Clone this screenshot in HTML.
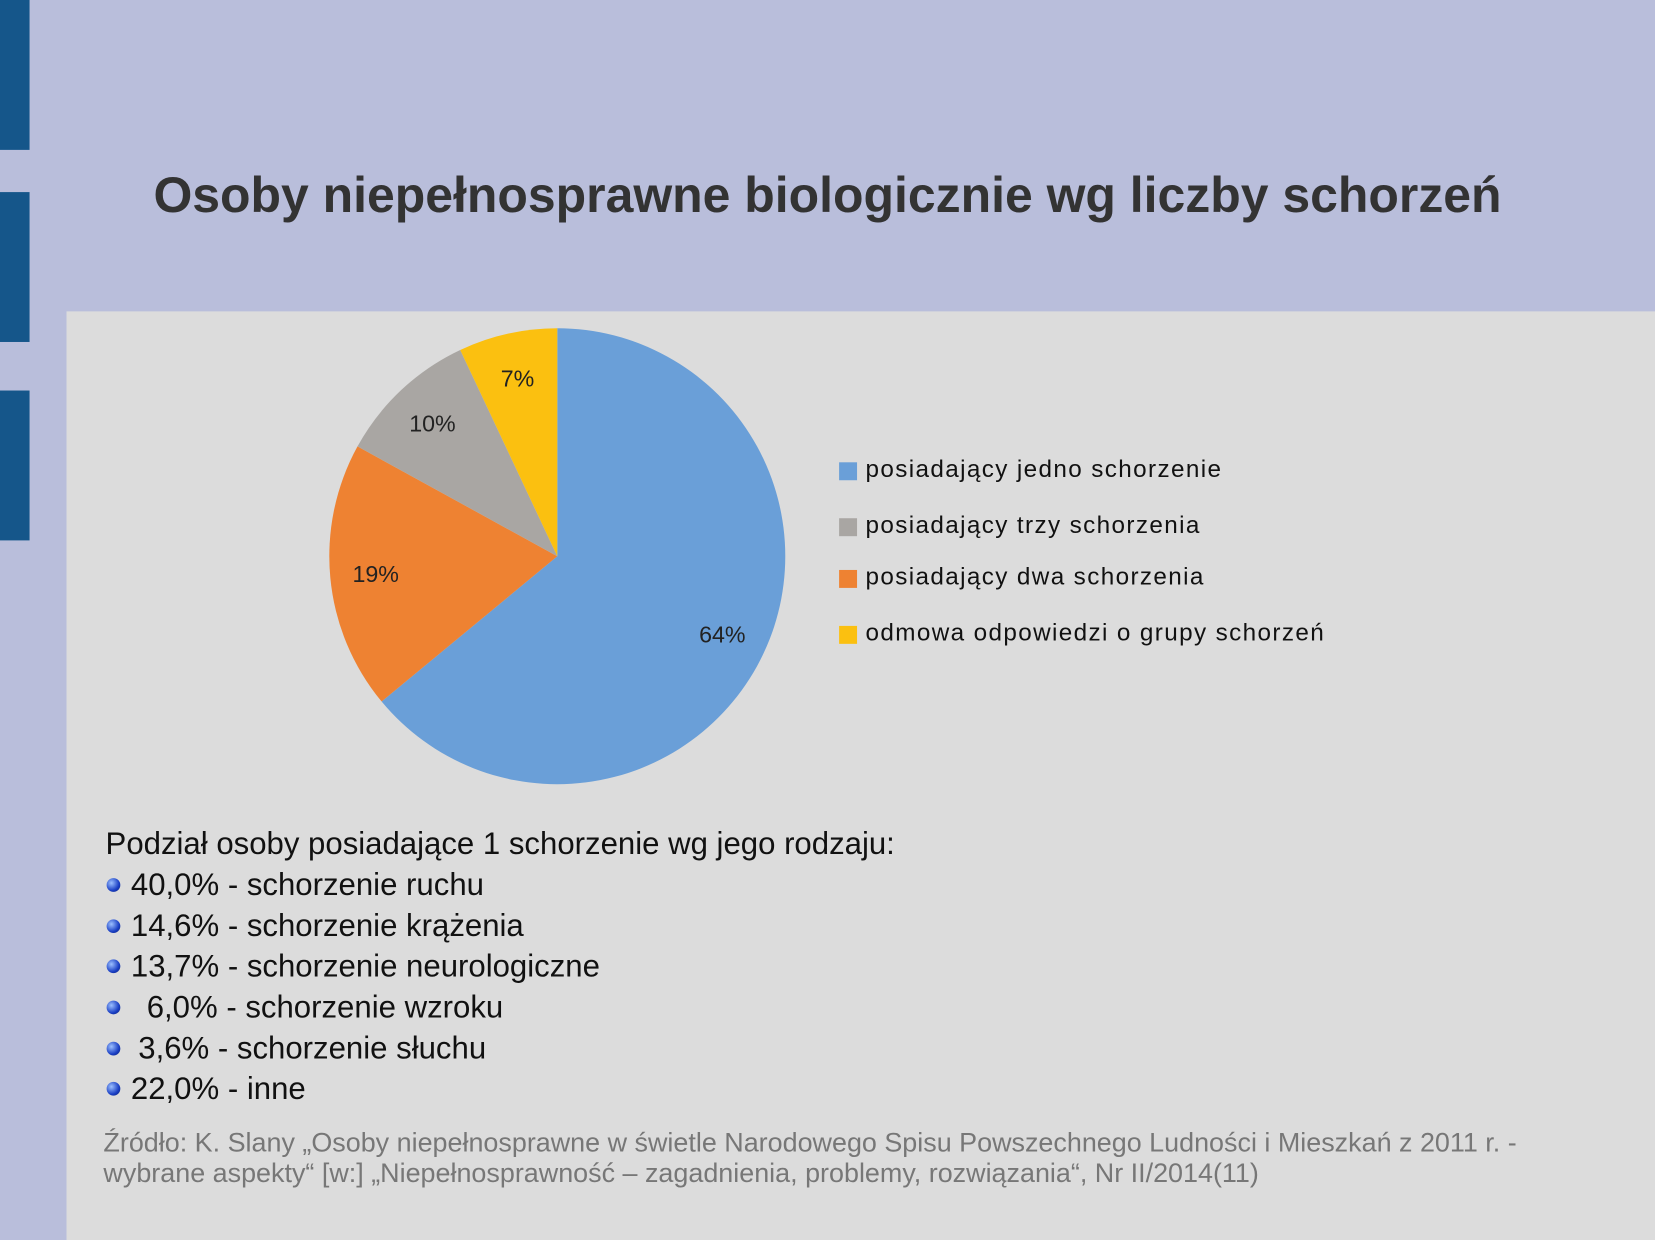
<!DOCTYPE html>
<html><head><meta charset="utf-8"><style>
body{margin:0;width:1655px;height:1240px;overflow:hidden;background:#b9bedb;font-family:"Liberation Sans",sans-serif}
#wrap{position:absolute;left:0;top:0;width:1568px;height:1175px;transform:scale(1.05548);transform-origin:0 0}
.bar{position:absolute;left:0;width:28px;background:#15568a}
#panel{position:absolute;left:63px;top:295px;width:1505px;height:880px;background:#dcdcdc}
.t{position:absolute;white-space:nowrap}
.li{font-size:29.5px;color:#111}
.dot{position:absolute;width:13px;height:13px;border-radius:50%;background:radial-gradient(circle at 35% 35%,#9cc0ff,#1a3fc4 60%,#0a1f70)}
.lg{font-size:23px;color:#111;letter-spacing:1.3px}
.sq{position:absolute;width:17px;height:17px}
</style></head><body>
<div id="wrap">
<div class="bar" style="top:0;height:142px"></div>
<div class="bar" style="top:182px;height:142px"></div>
<div class="bar" style="top:370px;height:142px"></div>
<div class="t" style="left:0;width:1568px;text-align:center;top:158px;font-size:47.3px;font-weight:bold;color:#333">Osoby niepełnosprawne biologicznie wg liczby schorzeń</div>
<div id="panel"></div>
<svg id="pie" style="position:absolute;left:0;top:0" width="1568" height="1175"></svg>
<div class="sq" style="left:795px;top:438px;background:#6a9fd8"></div>
<div class="t lg" style="left:820px;top:431px">posiadający jedno schorzenie</div>
<div class="sq" style="left:795px;top:491px;background:#a9a6a3"></div>
<div class="t lg" style="left:820px;top:484px">posiadający trzy schorzenia</div>
<div class="sq" style="left:795px;top:540px;background:#ee8232"></div>
<div class="t lg" style="left:820px;top:533px">posiadający dwa schorzenia</div>
<div class="sq" style="left:795px;top:593px;background:#fbc010"></div>
<div class="t lg" style="left:820px;top:586px">odmowa odpowiedzi o grupy schorzeń</div>
<div class="t li" style="left:100px;top:783px">Podział osoby posiadające 1 schorzenie wg jego rodzaju:</div>
<div class="dot" style="left:101px;top:832px"></div><div class="t li" style="left:124px;top:822px">40,0% - schorzenie ruchu</div>
<div class="dot" style="left:101px;top:871px"></div><div class="t li" style="left:124px;top:861px">14,6% - schorzenie krążenia</div>
<div class="dot" style="left:101px;top:909px"></div><div class="t li" style="left:124px;top:899px">13,7% - schorzenie neurologiczne</div>
<div class="dot" style="left:101px;top:948px"></div><div class="t li" style="left:139px;top:938px">6,0% - schorzenie wzroku</div>
<div class="dot" style="left:101px;top:987px"></div><div class="t li" style="left:131px;top:977px">3,6% - schorzenie słuchu</div>
<div class="dot" style="left:101px;top:1025px"></div><div class="t li" style="left:124px;top:1015px">22,0% - inne</div>
<div class="t" style="left:98px;top:1069px;font-size:25.5px;color:#777;line-height:29px">Źródło: K. Slany „Osoby niepełnosprawne w świetle Narodowego Spisu Powszechnego Ludności i Mieszkań z 2011 r. -<br>wybrane aspekty“ [w:] „Niepełnosprawność – zagadnienia, problemy, rozwiązania“, Nr II/2014(11)</div>
</div>
<script>
const categories=["jedno","dwa","trzy","odmowa"];
const values=[64,19,10,7];
const labels=["64%","19%","10%","7%"];
const colors=["#6a9fd8","#ee8232","#a9a6a3","#fbc010"];
const svg=document.getElementById('pie');
const cx=528,cy=527,R=216,NS="http://www.w3.org/2000/svg";
const total=values.reduce((a,b)=>a+b,0);
function pt(a,r){return [cx+r*Math.sin(a),cy-r*Math.cos(a)];}
let acc=0;
values.forEach((v,i)=>{
  const a0=acc/total*2*Math.PI;acc+=v;const a1=acc/total*2*Math.PI;
  const p0=pt(a0,R),p1=pt(a1,R);
  const p=document.createElementNS(NS,'path');
  p.setAttribute('d',`M${cx},${cy}L${p0[0]},${p0[1]}A${R},${R} 0 ${a1-a0>Math.PI?1:0} 1 ${p1[0]},${p1[1]}Z`);
  p.setAttribute('fill',colors[i]);
  
  
  svg.appendChild(p);
  const m=pt((a0+a1)/2,R*0.8);
  const t=document.createElementNS(NS,'text');
  t.setAttribute('x',m[0]);t.setAttribute('y',m[1]+8);
  t.setAttribute('text-anchor','middle');
  t.setAttribute('font-size','22');
  t.setAttribute('font-family','Liberation Sans, sans-serif');
  t.setAttribute('fill','#222');
  t.textContent=labels[i];
  
  
  svg.appendChild(t);
});
</script>
</body></html>
